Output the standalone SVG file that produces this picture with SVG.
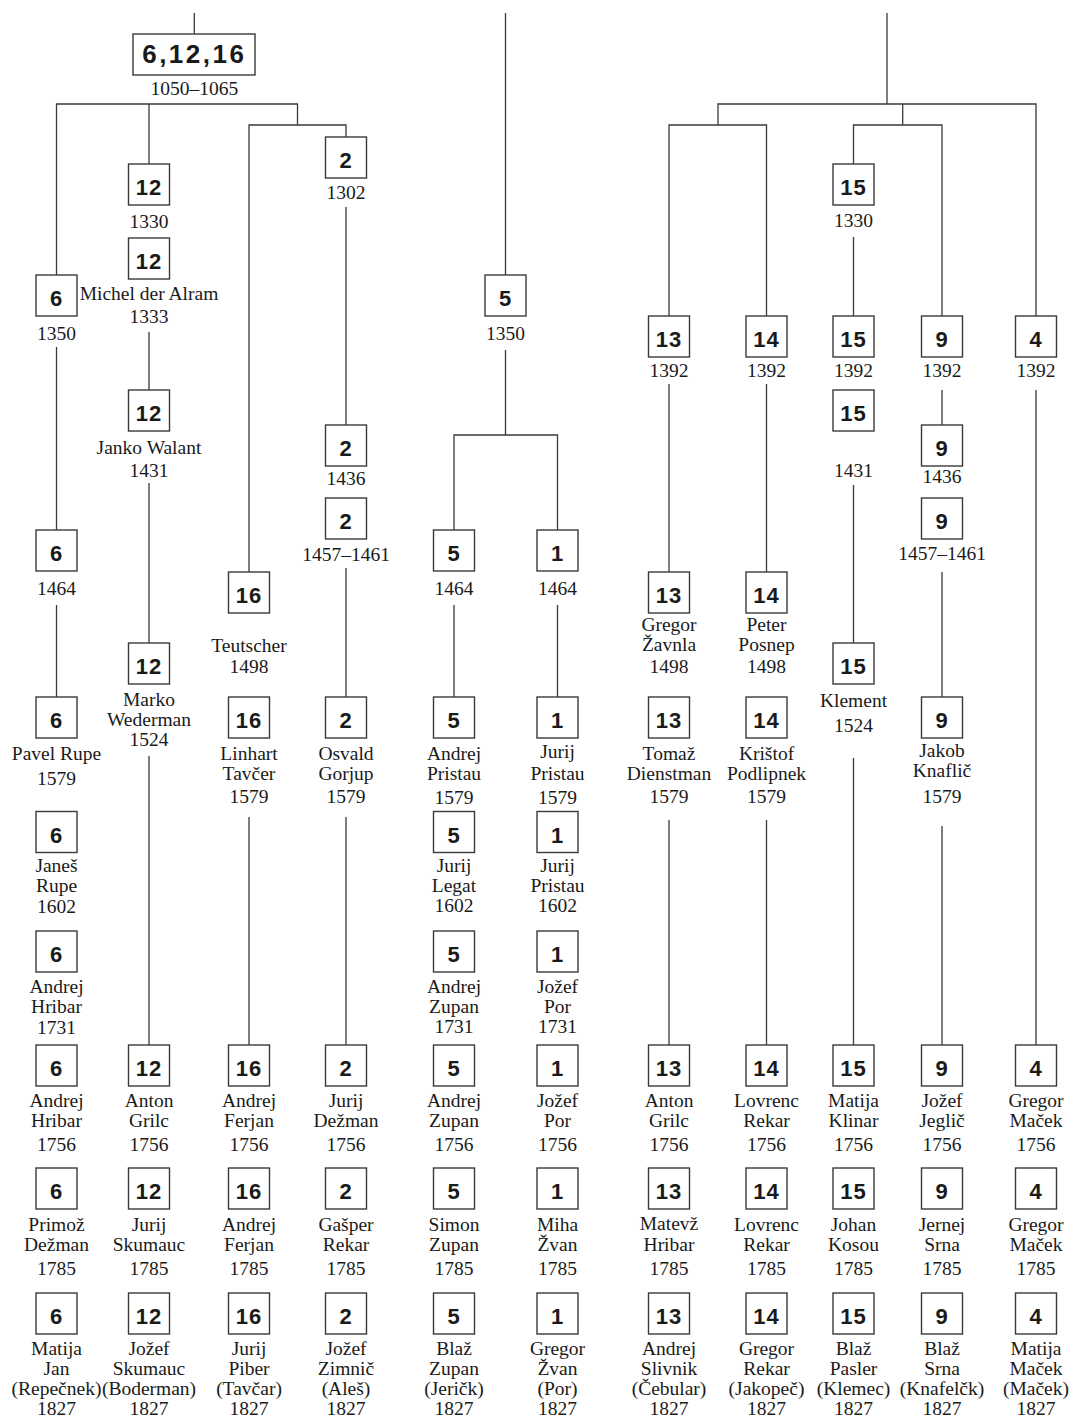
<svg xmlns="http://www.w3.org/2000/svg" width="1069" height="1420" viewBox="0 0 1069 1420">
<style>
.b{fill:#fff;stroke:#3a3a3a;stroke-width:1.4}
.n{font-family:"Liberation Sans",Arial,sans-serif;font-weight:bold;font-size:22px;letter-spacing:1px;text-anchor:middle;fill:#1a1a1a}
.t{font-family:"Liberation Serif","Times New Roman",serif;font-size:19.5px;text-anchor:middle;fill:#1a1a1a}
#connectors path{fill:none;stroke:#3a3a3a;stroke-width:1.3}
</style>
<rect width="1069" height="1420" fill="#fff"/>
<g id="connectors">
<path d="M194.3 13V34"/>
<path d="M56.5 275V104H297.5V125"/>
<path d="M149 104V164"/>
<path d="M249 572V125H346V137"/>
<path d="M56.5 347V530"/>
<path d="M56.5 605V697"/>
<path d="M149 332V390"/>
<path d="M149 483V643"/>
<path d="M149 756V1045"/>
<path d="M249 817V1045"/>
<path d="M346 207V425"/>
<path d="M346 568V697"/>
<path d="M346 817V1045"/>
<path d="M505.5 13V275"/>
<path d="M505.5 350V435"/>
<path d="M454 530V435H557.5V530"/>
<path d="M454 605V697"/>
<path d="M557.5 605V697"/>
<path d="M887 13V104"/>
<path d="M718 125V104H1036V316"/>
<path d="M902.7 104V125"/>
<path d="M669 316V125H766.5V316"/>
<path d="M853.5 164V125H942V316"/>
<path d="M669 384V572"/>
<path d="M669 820V1045"/>
<path d="M766.5 384V572"/>
<path d="M766.5 820V1045"/>
<path d="M853.5 237V316"/>
<path d="M853.5 485V643"/>
<path d="M853.5 758V1045"/>
<path d="M942 390V425"/>
<path d="M942 572V697"/>
<path d="M942 826V1045"/>
<path d="M1036 390V1045"/>
</g>

<g id="root">
<rect class="b" x="133" y="34" width="122" height="41"/>
<text class="n" x="194.3" y="63" style="font-size:26px;letter-spacing:2.5px">6,12,16</text>
<text class="t" x="194.3" y="95">1050–1065</text>
</g>

<!-- column 6 -->
<g id="n6-1350"><rect class="b" x="36" y="275" width="41" height="41"/><text class="n" x="56.5" y="306">6</text><text class="t" x="56.5" y="340">1350</text></g>
<g id="n6-1464"><rect class="b" x="36" y="530" width="41" height="41"/><text class="n" x="56.5" y="561">6</text><text class="t" x="56.5" y="595">1464</text></g>
<g id="n6-1579"><rect class="b" x="36" y="697" width="41" height="41"/><text class="n" x="56.5" y="728">6</text><text class="t" x="56.5" y="760">Pavel Rupe</text><text class="t" x="56.5" y="785">1579</text></g>
<g id="n6-1602"><rect class="b" x="36" y="811.5" width="41" height="41"/><text class="n" x="56.5" y="842.5">6</text><text class="t" x="56.5" y="872">Janeš</text><text class="t" x="56.5" y="892">Rupe</text><text class="t" x="56.5" y="913">1602</text></g>
<g id="n6-1731"><rect class="b" x="36" y="931" width="41" height="41"/><text class="n" x="56.5" y="962">6</text><text class="t" x="56.5" y="993">Andrej</text><text class="t" x="56.5" y="1013">Hribar</text><text class="t" x="56.5" y="1034">1731</text></g>
<g id="n6-1756"><rect class="b" x="36" y="1045" width="41" height="41"/><text class="n" x="56.5" y="1076">6</text><text class="t" x="56.5" y="1107">Andrej</text><text class="t" x="56.5" y="1127">Hribar</text><text class="t" x="56.5" y="1151">1756</text></g>
<g id="n6-1785"><rect class="b" x="36" y="1168" width="41" height="41"/><text class="n" x="56.5" y="1199">6</text><text class="t" x="56.5" y="1231">Primož</text><text class="t" x="56.5" y="1251">Dežman</text><text class="t" x="56.5" y="1275">1785</text></g>
<g id="n6-1827"><rect class="b" x="36" y="1293" width="41" height="41"/><text class="n" x="56.5" y="1324">6</text><text class="t" x="56.5" y="1355">Matija</text><text class="t" x="56.5" y="1375">Jan</text><text class="t" x="56.5" y="1395">(Repečnek)</text><text class="t" x="56.5" y="1415">1827</text></g>

<!-- column 12 -->
<g id="n12-1330"><rect class="b" x="128.5" y="164" width="41" height="41"/><text class="n" x="149" y="195">12</text><text class="t" x="149" y="228">1330</text></g>
<g id="n12-1333"><rect class="b" x="128.5" y="238" width="41" height="41"/><text class="n" x="149" y="269">12</text><text class="t" x="149" y="300">Michel der Alram</text><text class="t" x="149" y="323">1333</text></g>
<g id="n12-1431"><rect class="b" x="128.5" y="390" width="41" height="41"/><text class="n" x="149" y="421">12</text><text class="t" x="149" y="454">Janko Walant</text><text class="t" x="149" y="477">1431</text></g>
<g id="n12-1524"><rect class="b" x="128.5" y="643" width="41" height="41"/><text class="n" x="149" y="674">12</text><text class="t" x="149" y="706">Marko</text><text class="t" x="149" y="726">Wederman</text><text class="t" x="149" y="746">1524</text></g>
<g id="n12-1756"><rect class="b" x="128.5" y="1045" width="41" height="41"/><text class="n" x="149" y="1076">12</text><text class="t" x="149" y="1107">Anton</text><text class="t" x="149" y="1127">Grilc</text><text class="t" x="149" y="1151">1756</text></g>
<g id="n12-1785"><rect class="b" x="128.5" y="1168" width="41" height="41"/><text class="n" x="149" y="1199">12</text><text class="t" x="149" y="1231">Jurij</text><text class="t" x="149" y="1251">Skumauc</text><text class="t" x="149" y="1275">1785</text></g>
<g id="n12-1827"><rect class="b" x="128.5" y="1293" width="41" height="41"/><text class="n" x="149" y="1324">12</text><text class="t" x="149" y="1355">Jožef</text><text class="t" x="149" y="1375">Skumauc</text><text class="t" x="149" y="1395">(Boderman)</text><text class="t" x="149" y="1415">1827</text></g>

<!-- column 16 -->
<g id="n16-1498"><rect class="b" x="228.5" y="572" width="41" height="41"/><text class="n" x="249" y="603">16</text><text class="t" x="249" y="652">Teutscher</text><text class="t" x="249" y="673">1498</text></g>
<g id="n16-1579"><rect class="b" x="228.5" y="697" width="41" height="41"/><text class="n" x="249" y="728">16</text><text class="t" x="249" y="760">Linhart</text><text class="t" x="249" y="780">Tavčer</text><text class="t" x="249" y="803">1579</text></g>
<g id="n16-1756"><rect class="b" x="228.5" y="1045" width="41" height="41"/><text class="n" x="249" y="1076">16</text><text class="t" x="249" y="1107">Andrej</text><text class="t" x="249" y="1127">Ferjan</text><text class="t" x="249" y="1151">1756</text></g>
<g id="n16-1785"><rect class="b" x="228.5" y="1168" width="41" height="41"/><text class="n" x="249" y="1199">16</text><text class="t" x="249" y="1231">Andrej</text><text class="t" x="249" y="1251">Ferjan</text><text class="t" x="249" y="1275">1785</text></g>
<g id="n16-1827"><rect class="b" x="228.5" y="1293" width="41" height="41"/><text class="n" x="249" y="1324">16</text><text class="t" x="249" y="1355">Jurij</text><text class="t" x="249" y="1375">Piber</text><text class="t" x="249" y="1395">(Tavčar)</text><text class="t" x="249" y="1415">1827</text></g>

<!-- column 2 -->
<g id="n2-1302"><rect class="b" x="325.5" y="137" width="41" height="41"/><text class="n" x="346" y="168">2</text><text class="t" x="346" y="199">1302</text></g>
<g id="n2-1436"><rect class="b" x="325.5" y="425" width="41" height="41"/><text class="n" x="346" y="456">2</text><text class="t" x="346" y="485">1436</text></g>
<g id="n2-1457"><rect class="b" x="325.5" y="498" width="41" height="41"/><text class="n" x="346" y="529">2</text><text class="t" x="346" y="561">1457–1461</text></g>
<g id="n2-1579"><rect class="b" x="325.5" y="697" width="41" height="41"/><text class="n" x="346" y="728">2</text><text class="t" x="346" y="760">Osvald</text><text class="t" x="346" y="780">Gorjup</text><text class="t" x="346" y="803">1579</text></g>
<g id="n2-1756"><rect class="b" x="325.5" y="1045" width="41" height="41"/><text class="n" x="346" y="1076">2</text><text class="t" x="346" y="1107">Jurij</text><text class="t" x="346" y="1127">Dežman</text><text class="t" x="346" y="1151">1756</text></g>
<g id="n2-1785"><rect class="b" x="325.5" y="1168" width="41" height="41"/><text class="n" x="346" y="1199">2</text><text class="t" x="346" y="1231">Gašper</text><text class="t" x="346" y="1251">Rekar</text><text class="t" x="346" y="1275">1785</text></g>
<g id="n2-1827"><rect class="b" x="325.5" y="1293" width="41" height="41"/><text class="n" x="346" y="1324">2</text><text class="t" x="346" y="1355">Jožef</text><text class="t" x="346" y="1375">Zimnič</text><text class="t" x="346" y="1395">(Aleš)</text><text class="t" x="346" y="1415">1827</text></g>

<!-- middle -->
<g id="n5-1350"><rect class="b" x="485" y="275" width="41" height="41"/><text class="n" x="505.5" y="306">5</text><text class="t" x="505.5" y="340">1350</text></g>
<g id="n5-1464"><rect class="b" x="433.5" y="530" width="41" height="41"/><text class="n" x="454" y="561">5</text><text class="t" x="454" y="595">1464</text></g>
<g id="n5-1579"><rect class="b" x="433.5" y="697" width="41" height="41"/><text class="n" x="454" y="728">5</text><text class="t" x="454" y="760">Andrej</text><text class="t" x="454" y="780">Pristau</text><text class="t" x="454" y="804">1579</text></g>
<g id="n5-1602"><rect class="b" x="433.5" y="811.5" width="41" height="41"/><text class="n" x="454" y="842.5">5</text><text class="t" x="454" y="872">Jurij</text><text class="t" x="454" y="892">Legat</text><text class="t" x="454" y="912">1602</text></g>
<g id="n5-1731"><rect class="b" x="433.5" y="931" width="41" height="41"/><text class="n" x="454" y="962">5</text><text class="t" x="454" y="993">Andrej</text><text class="t" x="454" y="1013">Zupan</text><text class="t" x="454" y="1033">1731</text></g>
<g id="n5-1756"><rect class="b" x="433.5" y="1045" width="41" height="41"/><text class="n" x="454" y="1076">5</text><text class="t" x="454" y="1107">Andrej</text><text class="t" x="454" y="1127">Zupan</text><text class="t" x="454" y="1151">1756</text></g>
<g id="n5-1785"><rect class="b" x="433.5" y="1168" width="41" height="41"/><text class="n" x="454" y="1199">5</text><text class="t" x="454" y="1231">Simon</text><text class="t" x="454" y="1251">Zupan</text><text class="t" x="454" y="1275">1785</text></g>
<g id="n5-1827"><rect class="b" x="433.5" y="1293" width="41" height="41"/><text class="n" x="454" y="1324">5</text><text class="t" x="454" y="1355">Blaž</text><text class="t" x="454" y="1375">Zupan</text><text class="t" x="454" y="1395">(Jeričk)</text><text class="t" x="454" y="1415">1827</text></g>

<g id="n1-1464"><rect class="b" x="537" y="530" width="41" height="41"/><text class="n" x="557.5" y="561">1</text><text class="t" x="557.5" y="595">1464</text></g>
<g id="n1-1579"><rect class="b" x="537" y="697" width="41" height="41"/><text class="n" x="557.5" y="728">1</text><text class="t" x="557.5" y="758">Jurij</text><text class="t" x="557.5" y="780">Pristau</text><text class="t" x="557.5" y="804">1579</text></g>
<g id="n1-1602"><rect class="b" x="537" y="811.5" width="41" height="41"/><text class="n" x="557.5" y="842.5">1</text><text class="t" x="557.5" y="872">Jurij</text><text class="t" x="557.5" y="892">Pristau</text><text class="t" x="557.5" y="912">1602</text></g>
<g id="n1-1731"><rect class="b" x="537" y="931" width="41" height="41"/><text class="n" x="557.5" y="962">1</text><text class="t" x="557.5" y="993">Jožef</text><text class="t" x="557.5" y="1013">Por</text><text class="t" x="557.5" y="1033">1731</text></g>
<g id="n1-1756"><rect class="b" x="537" y="1045" width="41" height="41"/><text class="n" x="557.5" y="1076">1</text><text class="t" x="557.5" y="1107">Jožef</text><text class="t" x="557.5" y="1127">Por</text><text class="t" x="557.5" y="1151">1756</text></g>
<g id="n1-1785"><rect class="b" x="537" y="1168" width="41" height="41"/><text class="n" x="557.5" y="1199">1</text><text class="t" x="557.5" y="1231">Miha</text><text class="t" x="557.5" y="1251">Žvan</text><text class="t" x="557.5" y="1275">1785</text></g>
<g id="n1-1827"><rect class="b" x="537" y="1293" width="41" height="41"/><text class="n" x="557.5" y="1324">1</text><text class="t" x="557.5" y="1355">Gregor</text><text class="t" x="557.5" y="1375">Žvan</text><text class="t" x="557.5" y="1395">(Por)</text><text class="t" x="557.5" y="1415">1827</text></g>

<!-- column 13 -->
<g id="n13-1392"><rect class="b" x="648.5" y="316" width="41" height="41"/><text class="n" x="669" y="347">13</text><text class="t" x="669" y="377">1392</text></g>
<g id="n13-1498"><rect class="b" x="648.5" y="572" width="41" height="41"/><text class="n" x="669" y="603">13</text><text class="t" x="669" y="631">Gregor</text><text class="t" x="669" y="651">Žavnla</text><text class="t" x="669" y="673">1498</text></g>
<g id="n13-1579"><rect class="b" x="648.5" y="697" width="41" height="41"/><text class="n" x="669" y="728">13</text><text class="t" x="669" y="760">Tomaž</text><text class="t" x="669" y="780">Dienstman</text><text class="t" x="669" y="803">1579</text></g>
<g id="n13-1756"><rect class="b" x="648.5" y="1045" width="41" height="41"/><text class="n" x="669" y="1076">13</text><text class="t" x="669" y="1107">Anton</text><text class="t" x="669" y="1127">Grilc</text><text class="t" x="669" y="1151">1756</text></g>
<g id="n13-1785"><rect class="b" x="648.5" y="1168" width="41" height="41"/><text class="n" x="669" y="1199">13</text><text class="t" x="669" y="1230">Matevž</text><text class="t" x="669" y="1251">Hribar</text><text class="t" x="669" y="1275">1785</text></g>
<g id="n13-1827"><rect class="b" x="648.5" y="1293" width="41" height="41"/><text class="n" x="669" y="1324">13</text><text class="t" x="669" y="1355">Andrej</text><text class="t" x="669" y="1375">Slivnik</text><text class="t" x="669" y="1395">(Čebular)</text><text class="t" x="669" y="1415">1827</text></g>

<!-- column 14 -->
<g id="n14-1392"><rect class="b" x="746" y="316" width="41" height="41"/><text class="n" x="766.5" y="347">14</text><text class="t" x="766.5" y="377">1392</text></g>
<g id="n14-1498"><rect class="b" x="746" y="572" width="41" height="41"/><text class="n" x="766.5" y="603">14</text><text class="t" x="766.5" y="631">Peter</text><text class="t" x="766.5" y="651">Posnep</text><text class="t" x="766.5" y="673">1498</text></g>
<g id="n14-1579"><rect class="b" x="746" y="697" width="41" height="41"/><text class="n" x="766.5" y="728">14</text><text class="t" x="766.5" y="760">Krištof</text><text class="t" x="766.5" y="780">Podlipnek</text><text class="t" x="766.5" y="803">1579</text></g>
<g id="n14-1756"><rect class="b" x="746" y="1045" width="41" height="41"/><text class="n" x="766.5" y="1076">14</text><text class="t" x="766.5" y="1107">Lovrenc</text><text class="t" x="766.5" y="1127">Rekar</text><text class="t" x="766.5" y="1151">1756</text></g>
<g id="n14-1785"><rect class="b" x="746" y="1168" width="41" height="41"/><text class="n" x="766.5" y="1199">14</text><text class="t" x="766.5" y="1231">Lovrenc</text><text class="t" x="766.5" y="1251">Rekar</text><text class="t" x="766.5" y="1275">1785</text></g>
<g id="n14-1827"><rect class="b" x="746" y="1293" width="41" height="41"/><text class="n" x="766.5" y="1324">14</text><text class="t" x="766.5" y="1355">Gregor</text><text class="t" x="766.5" y="1375">Rekar</text><text class="t" x="766.5" y="1395">(Jakopeč)</text><text class="t" x="766.5" y="1415">1827</text></g>

<!-- column 15 -->
<g id="n15-1330"><rect class="b" x="833" y="164" width="41" height="41"/><text class="n" x="853.5" y="195">15</text><text class="t" x="853.5" y="227">1330</text></g>
<g id="n15-1392"><rect class="b" x="833" y="316" width="41" height="41"/><text class="n" x="853.5" y="347">15</text><text class="t" x="853.5" y="377">1392</text></g>
<g id="n15-1431"><rect class="b" x="833" y="390" width="41" height="41"/><text class="n" x="853.5" y="421">15</text><text class="t" x="853.5" y="477">1431</text></g>
<g id="n15-1524"><rect class="b" x="833" y="643" width="41" height="41"/><text class="n" x="853.5" y="674">15</text><text class="t" x="853.5" y="707">Klement</text><text class="t" x="853.5" y="732">1524</text></g>
<g id="n15-1756"><rect class="b" x="833" y="1045" width="41" height="41"/><text class="n" x="853.5" y="1076">15</text><text class="t" x="853.5" y="1107">Matija</text><text class="t" x="853.5" y="1127">Klinar</text><text class="t" x="853.5" y="1151">1756</text></g>
<g id="n15-1785"><rect class="b" x="833" y="1168" width="41" height="41"/><text class="n" x="853.5" y="1199">15</text><text class="t" x="853.5" y="1231">Johan</text><text class="t" x="853.5" y="1251">Kosou</text><text class="t" x="853.5" y="1275">1785</text></g>
<g id="n15-1827"><rect class="b" x="833" y="1293" width="41" height="41"/><text class="n" x="853.5" y="1324">15</text><text class="t" x="853.5" y="1355">Blaž</text><text class="t" x="853.5" y="1375">Pasler</text><text class="t" x="853.5" y="1395">(Klemec)</text><text class="t" x="853.5" y="1415">1827</text></g>

<!-- column 9 -->
<g id="n9-1392"><rect class="b" x="921.5" y="316" width="41" height="41"/><text class="n" x="942" y="347">9</text><text class="t" x="942" y="377">1392</text></g>
<g id="n9-1436"><rect class="b" x="921.5" y="425" width="41" height="41"/><text class="n" x="942" y="456">9</text><text class="t" x="942" y="483">1436</text></g>
<g id="n9-1457"><rect class="b" x="921.5" y="498" width="41" height="41"/><text class="n" x="942" y="529">9</text><text class="t" x="942" y="560">1457–1461</text></g>
<g id="n9-1579"><rect class="b" x="921.5" y="697" width="41" height="41"/><text class="n" x="942" y="728">9</text><text class="t" x="942" y="757">Jakob</text><text class="t" x="942" y="777">Knaflič</text><text class="t" x="942" y="803">1579</text></g>
<g id="n9-1756"><rect class="b" x="921.5" y="1045" width="41" height="41"/><text class="n" x="942" y="1076">9</text><text class="t" x="942" y="1107">Jožef</text><text class="t" x="942" y="1127">Jeglič</text><text class="t" x="942" y="1151">1756</text></g>
<g id="n9-1785"><rect class="b" x="921.5" y="1168" width="41" height="41"/><text class="n" x="942" y="1199">9</text><text class="t" x="942" y="1231">Jernej</text><text class="t" x="942" y="1251">Srna</text><text class="t" x="942" y="1275">1785</text></g>
<g id="n9-1827"><rect class="b" x="921.5" y="1293" width="41" height="41"/><text class="n" x="942" y="1324">9</text><text class="t" x="942" y="1355">Blaž</text><text class="t" x="942" y="1375">Srna</text><text class="t" x="942" y="1395">(Knafelčk)</text><text class="t" x="942" y="1415">1827</text></g>

<!-- column 4 -->
<g id="n4-1392"><rect class="b" x="1015.5" y="316" width="41" height="41"/><text class="n" x="1036" y="347">4</text><text class="t" x="1036" y="377">1392</text></g>
<g id="n4-1756"><rect class="b" x="1015.5" y="1045" width="41" height="41"/><text class="n" x="1036" y="1076">4</text><text class="t" x="1036" y="1107">Gregor</text><text class="t" x="1036" y="1127">Maček</text><text class="t" x="1036" y="1151">1756</text></g>
<g id="n4-1785"><rect class="b" x="1015.5" y="1168" width="41" height="41"/><text class="n" x="1036" y="1199">4</text><text class="t" x="1036" y="1231">Gregor</text><text class="t" x="1036" y="1251">Maček</text><text class="t" x="1036" y="1275">1785</text></g>
<g id="n4-1827"><rect class="b" x="1015.5" y="1293" width="41" height="41"/><text class="n" x="1036" y="1324">4</text><text class="t" x="1036" y="1355">Matija</text><text class="t" x="1036" y="1375">Maček</text><text class="t" x="1036" y="1395">(Maček)</text><text class="t" x="1036" y="1415">1827</text></g>
</svg>
